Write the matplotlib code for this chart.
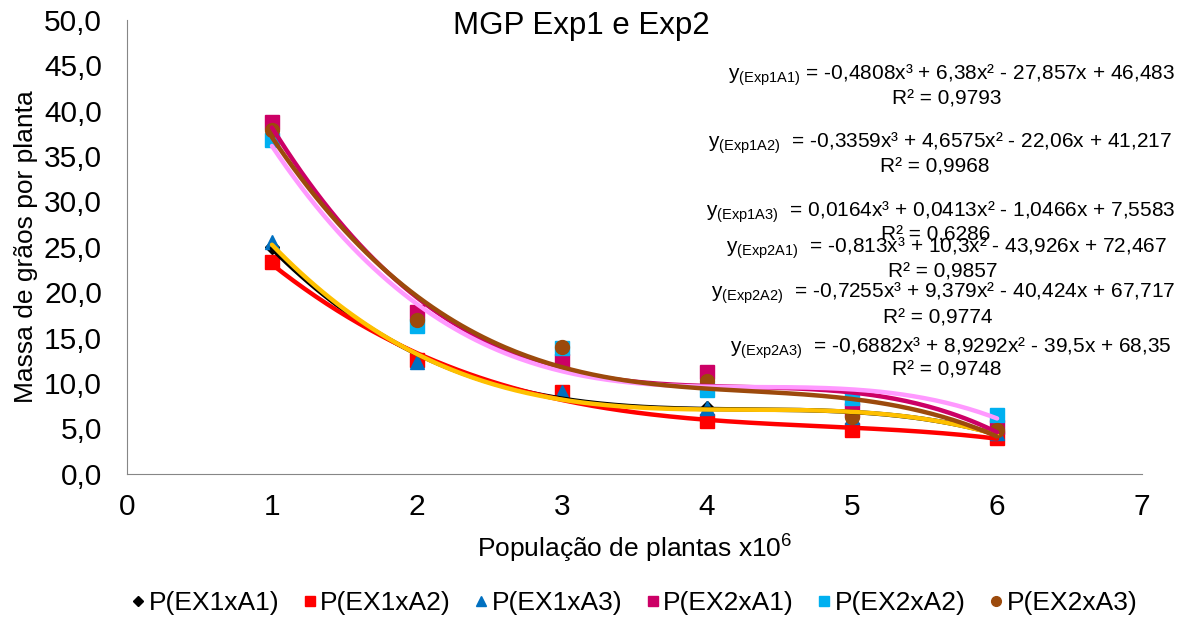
import numpy as np
import matplotlib
matplotlib.use('Agg')
import matplotlib.pyplot as plt

plt.rcParams['font.family'] = ['Liberation Sans', 'DejaVu Sans']
plt.rcParams['mathtext.fontset'] = 'custom'
plt.rcParams['mathtext.rm'] = 'Liberation Sans'
plt.rcParams['mathtext.it'] = 'Liberation Sans'

# população (x10^6) e massa de grãos por planta
populacao = [1, 2, 3, 4, 5, 6]
ex1a1 = [25.0, 12.6, 8.8, 7.3, 6.4, 4.5]
ex1a2 = [23.3, 12.5, 9.0, 5.8, 4.8, 4.0]
ex1a3 = [25.5, 12.3, 9.0, 7.2, 6.3, 4.5]
ex2a1 = [38.7, 17.8, 12.4, 11.2, 7.0, 5.2]
ex2a2 = [36.8, 16.3, 13.9, 9.2, 8.4, 6.5]
ex2a3 = [37.9, 16.9, 14.0, 10.2, 6.3, 4.8]

series = [
    ('P(EX1xA1)', ex1a1, 'D', '#000000', 7, '#000000'),
    ('P(EX1xA2)', ex1a2, 's', '#FF0000', 10, '#FF0000'),
    ('P(EX1xA3)', ex1a3, '^', '#0070C0', 10, '#FFC000'),
    ('P(EX2xA1)', ex2a1, 's', '#CC0066', 10, '#CC0066'),
    ('P(EX2xA2)', ex2a2, 's', '#00B0F0', 10, '#FF99FF'),
    ('P(EX2xA3)', ex2a3, 'o', '#9C4A0C', 10, '#9C4A0C'),
]

equacoes = [
    ('y$_{\\mathregular{(Exp1A1)}}$ = -0,4808x³ + 6,38x² - 27,857x + 46,483', 'R² = 0,9793'),
    ('y$_{\\mathregular{(Exp1A2)}}$  = -0,3359x³ + 4,6575x² - 22,06x + 41,217', 'R² = 0,9968'),
    ('y$_{\\mathregular{(Exp1A3)}}$  = 0,0164x³ + 0,0413x² - 1,0466x + 7,5583', 'R² = 0,6286'),
    ('y$_{\\mathregular{(Exp2A1)}}$  = -0,813x³ + 10,3x² - 43,926x + 72,467', 'R² = 0,9857'),
    ('y$_{\\mathregular{(Exp2A2)}}$  = -0,7255x³ + 9,379x² - 40,424x + 67,717', 'R² = 0,9774'),
    ('y$_{\\mathregular{(Exp2A3)}}$  = -0,6882x³ + 8,9292x² - 39,5x + 68,35', 'R² = 0,9748'),
]

fig = plt.figure(figsize=(11.86, 6.17), dpi=100)
ax = fig.add_axes([0.107, 0.232, 0.856, 0.736])

xs = np.linspace(1, 6, 200)
for nome, ys, mk, cor, ms, cor_linha in series:
    ax.plot(populacao, ys, linestyle='none', marker=mk, color=cor,
            markersize=ms, label=nome, zorder=2)
for nome, ys, mk, cor, ms, cor_linha in series:
    # linha de tendência polinomial de ordem 3
    coef = np.polyfit(populacao, ys, 3)
    ax.plot(xs, np.polyval(coef, xs), color=cor_linha, lw=3.2,
            solid_capstyle='round', zorder=3)

ax.set_xlim(0, 7)
ax.set_ylim(0, 50)
ax.set_xticks(range(0, 8))
ax.set_yticks(np.arange(0, 51, 5))
ax.set_yticklabels([f'{v:.1f}'.replace('.', ',') for v in np.arange(0, 51, 5)])
ax.tick_params(length=0, labelsize=21.5)
ax.tick_params(axis='x', pad=14)
ax.tick_params(axis='y', pad=18)
for s in ['top', 'right']:
    ax.spines[s].set_visible(False)
for s in ['left', 'bottom']:
    ax.spines[s].set_color('#868686')

ax.set_xlabel('População de plantas x10$^{\\mathregular{6}}$', fontsize=19, labelpad=8)
ax.set_ylabel('Massa de grãos por planta', fontsize=19, labelpad=4)
fig.text(0.49, 0.958, 'MGP Exp1 e Exp2', ha='center', va='center', fontsize=22.5)

# equações das linhas de tendência
pos_eq = [(1175, 75, 947, 99), (1172, 143, 935, 167), (1175, 212, 936, 235),
          (1167, 248, 943, 272), (1175, 293, 938, 318), (1172, 348, 947, 370)]
for (eq, r2), (xe, ye, xr, yr) in zip(equacoes, pos_eq):
    fig.text(xe / 1186, 1 - ye / 617, eq, ha='right', va='center', fontsize=15)
    fig.text(xr / 1186, 1 - yr / 617, r2, ha='center', va='center', fontsize=15)

fig.legend(loc='center', bbox_to_anchor=(0.535, 0.022), ncol=6, frameon=False,
           fontsize=19, handlelength=0.5, handletextpad=0.15, columnspacing=0.9,
           markerscale=0.7)

fig.savefig('out.png', dpi=100)
